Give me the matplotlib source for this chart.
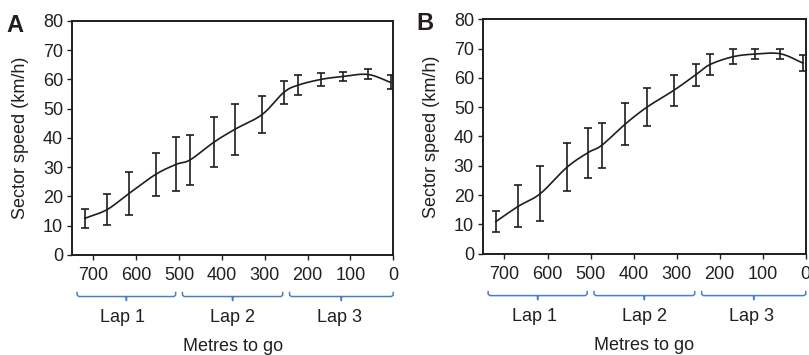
import numpy as np
import matplotlib
matplotlib.use('Agg')
import matplotlib.pyplot as plt
from matplotlib.transforms import blended_transform_factory

# Data (metres to go, mean sector speed, error bar half-width)
metres = [720, 668, 617, 555, 506, 474, 419, 369, 306, 256, 223, 169, 118, 59, 6]

speed_a = [12.5, 15.5, 21.0, 27.5, 31.0, 32.5, 38.5, 43.0, 48.0, 55.5, 58.0, 60.0, 61.0, 61.7, 59.0]
err_a = [3.3, 5.3, 7.2, 7.2, 9.3, 8.5, 8.5, 8.7, 6.2, 3.8, 3.4, 2.3, 1.5, 1.7, 2.4]

speed_b = [11.0, 16.2, 20.5, 29.5, 34.5, 37.0, 44.3, 50.0, 55.8, 61.0, 64.5, 67.2, 68.1, 68.2, 65.0]
err_b = [3.7, 7.2, 9.3, 8.2, 8.5, 7.7, 7.1, 6.4, 5.3, 3.7, 3.5, 2.5, 1.8, 1.8, 2.8]

laps = ["Lap 1", "Lap 2", "Lap 3"]
lap_edges = [750, 500, 250, 0]
xticks = [700, 600, 500, 400, 300, 200, 100, 0]
yticks = [0, 10, 20, 30, 40, 50, 60, 70, 80]

TEXT = "#231f20"
LINE = "#1e1e1e"
BRACE = "#4a7ec6"

plt.rcParams['font.family'] = ['Liberation Sans', 'DejaVu Sans']
plt.rcParams['font.size'] = 13


def smooth(x, y, n=20):
    # Catmull-Rom curve through the points, only for drawing the line
    p = np.column_stack([x, y]).astype(float)
    p = np.vstack([2 * p[0] - p[1], p, 2 * p[-1] - p[-2]])
    t = np.linspace(0, 1, n, endpoint=False)[:, None]
    out = []
    for i in range(1, len(p) - 2):
        p0, p1, p2, p3 = p[i - 1], p[i], p[i + 1], p[i + 2]
        seg = 0.5 * ((2 * p1) + (-p0 + p2) * t + (2 * p0 - 5 * p1 + 4 * p2 - p3) * t ** 2
                     + (-p0 + 3 * p1 - 3 * p2 + p3) * t ** 3)
        out.append(seg)
    out.append(p[-2][None, :])
    out = np.vstack(out)
    return out[:, 0], out[:, 1]


def draw_brace(ax, x0, x1, color):
    tr = blended_transform_factory(ax.transData, ax.transAxes)
    ytop, ymid, ytip = -0.16, -0.178, -0.195
    xm = (x0 + x1) / 2
    r = 4
    xs = [x0, x0, x0 - r, xm + 2, xm, xm, xm, xm - 2, x1 + r, x1, x1]
    ys = [ytop, ymid + 0.006, ymid, ymid, ymid, ytip, ymid, ymid, ymid, ymid + 0.006, ytop]
    ax.plot(xs, ys, color=color, lw=1.1, transform=tr, clip_on=False, solid_capstyle='round')


def panel(ax, speed, err, letter):
    xs, ys = smooth(metres, speed)
    ax.plot(xs, ys, color=LINE, lw=1.2)
    ax.errorbar(metres, speed, yerr=err, fmt='none', ecolor=LINE, elinewidth=1.2,
                capsize=3.2, capthick=1.2)
    ax.set_xlim(750, 0)
    ax.set_ylim(0, 80)
    ax.set_xticks(xticks)
    ax.set_yticks(yticks)
    ax.tick_params(direction='out', length=3.5, width=1.0, colors=TEXT, labelcolor=TEXT)
    ax.tick_params(axis='x', pad=5.5)
    ax.tick_params(axis='y', pad=3)
    for s in ax.spines.values():
        s.set_linewidth(1.4)
        s.set_color(LINE)
    ax.set_ylabel("Sector speed (km/h)", color=TEXT, labelpad=10)
    for i, lap in enumerate(laps):
        x0 = lap_edges[i] - 8 if i > 0 else 738
        x1 = lap_edges[i + 1] + 8 if i < 2 else 0
        draw_brace(ax, x0, x1, BRACE)
        ax.text((lap_edges[i] + lap_edges[i + 1]) / 2 + (6 if i == 0 else 0), -0.268, lap,
                transform=blended_transform_factory(ax.transData, ax.transAxes),
                ha='center', va='center', color=TEXT)
    ax.text(0.5, -0.392, "Metres to go", transform=ax.transAxes, ha='center', va='center', color=TEXT)
    ax.text(-0.205, 0.98, letter, transform=ax.transAxes, ha='left', va='center',
            fontsize=17, fontweight='bold', color=TEXT)


fig = plt.figure(figsize=(8.09, 3.55), dpi=100)
ax_a = fig.add_axes([0.089, 0.282, 0.397, 0.659])
ax_b = fig.add_axes([0.597, 0.285, 0.399, 0.661])

panel(ax_a, speed_a, err_a, "A")
panel(ax_b, speed_b, err_b, "B")

fig.savefig("out.png", dpi=100)
